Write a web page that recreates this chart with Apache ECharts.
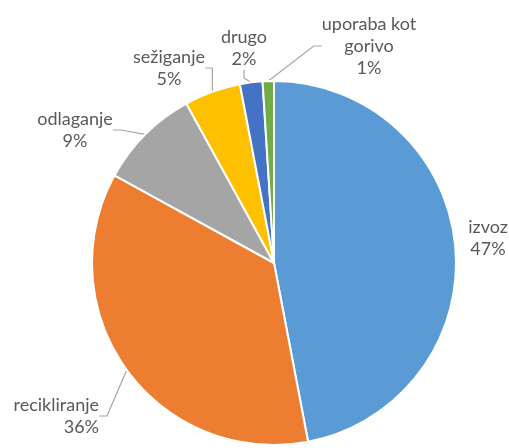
<!DOCTYPE html>
<html><head><meta charset="utf-8">
<script src="https://cdn.jsdelivr.net/npm/echarts@6/dist/echarts.min.js"></script>
<style>html,body{margin:0;padding:0;background:#fff}#c{width:509px;height:448px}</style>
</head><body><div id="c"></div>
<script>
var categories = ['izvoz', 'recikliranje', 'odlaganje', 'sežiganje', 'drugo', 'uporaba kot\ngorivo'];
var values = [47, 36, 9, 5, 2, 1];
var colors = ['#5B9BD5', '#ED7D31', '#A5A5A5', '#FFC000', '#4472C4', '#70AD47'];

// label anchor positions (text placement only)
var labelPos = [
  { x: 488, y: 238, align: 'center' },
  { x: 99, y: 416, align: 'right' },
  { x: 75, y: 130, align: 'center' },
  { x: 169, y: 68, align: 'center' },
  { x: 244, y: 48, align: 'center' },
  { x: 369, y: 46, align: 'center' }
];

var data = categories.map(function (c, i) {
  return {
    name: c, value: values[i], itemStyle: { color: colors[i] },
    labelLine: { show: i !== 0 },
    label: { align: labelPos[i].align }
  };
});
var chart = echarts.init(document.getElementById('c'));
chart.setOption({
  animation: false,
  series: [{
    type: 'pie',
    center: [274, 263],
    radius: 182,
    startAngle: 90,
    clockwise: true,
    data: data,
    itemStyle: { borderColor: '#fff', borderWidth: 2 },
    label: {
      position: 'outside',
      formatter: '{b}\n{d}%',
      color: '#595959',
      fontFamily: 'Lato',
      fontSize: 18,
      lineHeight: 22,
      align: 'center',
      overflow: 'none',
      width: null
    },
    labelLine: { show: true, length: 10, length2: 8, lineStyle: { color: '#a6a6a6', width: 1.2 } },
    labelLayout: function (p) {
      var lp = labelPos[p.dataIndex];
      return { x: lp.x, y: lp.y, align: lp.align, verticalAlign: 'middle', moveOverlap: false, hideOverlap: false };
    }
  }]
});
</script></body></html>
